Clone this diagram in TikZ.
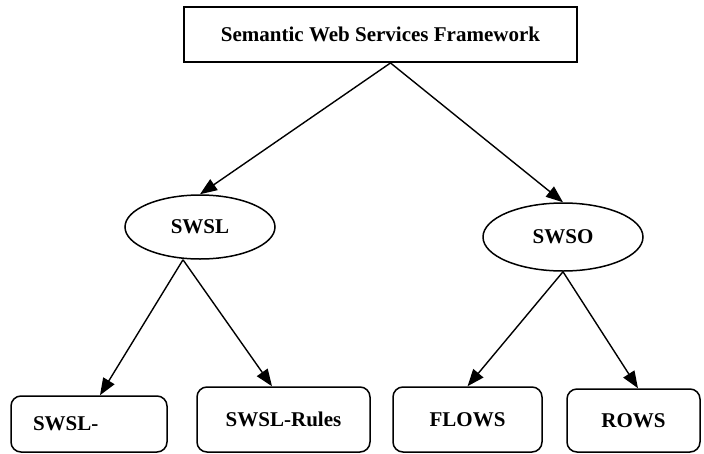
\documentclass[tikz,border=0pt]{standalone}
\usepackage{fontspec}
\setmainfont{Liberation Serif}
\usepackage{tikz}
\usetikzlibrary{positioning, calc}
\usetikzlibrary{arrows.meta, shapes.geometric}

\begin{document}
\begin{tikzpicture}[x=1pt, y=-1pt, font=\fontsize{21}{25}\selectfont\bfseries, >={Triangle[length=17pt, width=13pt]}, line width=1.4pt]
        \useasboundingbox (0,0) rectangle (704,453);

        % Styles
        \tikzset{leafbox/.style={draw, rounded corners=10pt, line width=1.5pt, inner sep=0pt, minimum height=65pt}}
        \tikzset{langnode/.style={draw, ellipse, line width=1.5pt, inner sep=0pt}}

        % Nodes
        \node[draw, line width=1.9pt, minimum width=393pt, minimum height=55pt] (swsf) at (380.5,34.5) {Semantic Web Services Framework};

        \node[langnode, minimum width=150pt, minimum height=64pt] (swsl) at (200,227) {SWSL};
        \node[langnode, minimum width=160pt, minimum height=68pt] (swso) at (563,237) {SWSO};

        \node[leafbox, minimum width=156pt, minimum height=56pt, text width=112pt, inner xsep=22pt, align=left] (swslont) at (89,424) {SWSL-};
        \node[leafbox, minimum width=173pt] (swslrules) at (283.5,419.5) {SWSL-Rules};
        \node[leafbox, minimum width=149pt] (flows) at (467.5,419.5) {FLOWS};
        \node[leafbox, minimum width=133pt, minimum height=63pt] (rows) at (633.5,420.5) {ROWS};

        % Edges
        \draw[->] ([xshift=10pt]swsf.south) -- (swsl.north);
        \draw[->] ([xshift=10pt]swsf.south) -- (swso.north);
        \draw[->] ([xshift=-17pt]swsl.south) -- ([xshift=11pt]swslont.north);
        \draw[->] ([xshift=-17pt]swsl.south) -- ([xshift=-11.5pt]swslrules.north);
        \draw[->] (swso.south) -- (flows.north);
        \draw[->] (swso.south) -- ([xshift=4.5pt]rows.north);
    \end{tikzpicture}
\end{document}
